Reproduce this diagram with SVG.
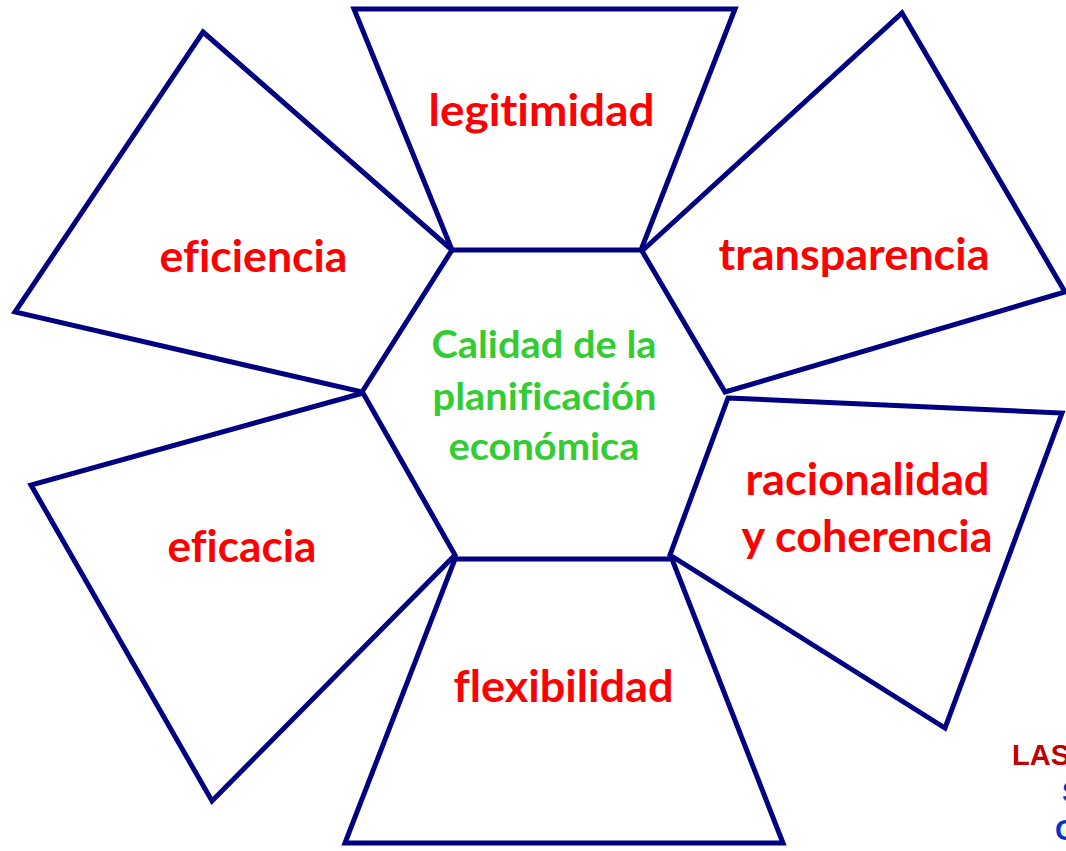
<svg xmlns="http://www.w3.org/2000/svg" width="1066" height="851" viewBox="0 0 1066 851">
<style>
.shape{fill:#ffffff;stroke:#000080;stroke-width:5;stroke-linejoin:miter}
.lbl{font-family:Lato,"Open Sans","Liberation Sans",sans-serif;font-weight:bold;font-size:44px;fill:#ff0000;text-anchor:middle;font-variant-ligatures:none;font-feature-settings:"liga" 0,"dlig" 0}
.ctr{font-family:Lato,"Open Sans","Liberation Sans",sans-serif;font-weight:bold;font-size:38px;fill:#33cc33;text-anchor:middle;font-variant-ligatures:none;font-feature-settings:"liga" 0,"dlig" 0}
.note{font-family:"Liberation Sans",Arial,sans-serif;font-weight:bold;font-size:29px}
</style>
<rect width="1066" height="851" fill="#ffffff"/>
<g id="connectors"></g>
<g id="node-legitimidad">
<polygon class="shape" points="354,9 735,9 641,250 452,250"/>
<text class="lbl" x="541.5" y="126" textLength="226" lengthAdjust="spacingAndGlyphs">legitimidad</text>
</g>
<g id="node-eficiencia">
<polygon class="shape" points="203,32 452,250 362,392 15,312"/>
<text class="lbl" x="253.5" y="272" textLength="188" lengthAdjust="spacingAndGlyphs">eficiencia</text>
</g>
<g id="node-transparencia">
<polygon class="shape" points="642,251 902,13 1065,292 725,392"/>
<text class="lbl" x="854" y="270" textLength="271" lengthAdjust="spacingAndGlyphs">transparencia</text>
</g>
<g id="node-racionalidad">
<polygon class="shape" points="728,398 1062,413 945,728 670,555"/>
<text class="lbl" x="867.5" y="495" textLength="244" lengthAdjust="spacingAndGlyphs">racionalidad</text>
<text class="lbl" x="867" y="552" textLength="251" lengthAdjust="spacingAndGlyphs">y coherencia</text>
</g>
<g id="node-flexibilidad">
<polygon class="shape" points="455,559 672,559 783,843 345,843"/>
<text class="lbl" x="563.5" y="702" textLength="220" lengthAdjust="spacingAndGlyphs">flexibilidad</text>
</g>
<g id="node-eficacia">
<polygon class="shape" points="363,393 455,555 212,801 31,485"/>
<text class="lbl" x="242" y="562" textLength="149" lengthAdjust="spacingAndGlyphs">eficacia</text>
</g>
<g id="node-center">
<text class="ctr" x="544" y="358" textLength="225" lengthAdjust="spacingAndGlyphs">Calidad de la</text>
<text class="ctr" x="544.5" y="410" textLength="224" lengthAdjust="spacingAndGlyphs">planificación</text>
<text class="ctr" x="544" y="460" textLength="191" lengthAdjust="spacingAndGlyphs">económica</text>
</g>
<g id="note">
<text class="note" x="1012" y="765" fill="#c00000">LAS</text>
<text class="note" x="1062" y="802" fill="#0033cc">S</text>
<text class="note" x="1055" y="840" fill="#0033cc">C</text>
</g>
</svg>
